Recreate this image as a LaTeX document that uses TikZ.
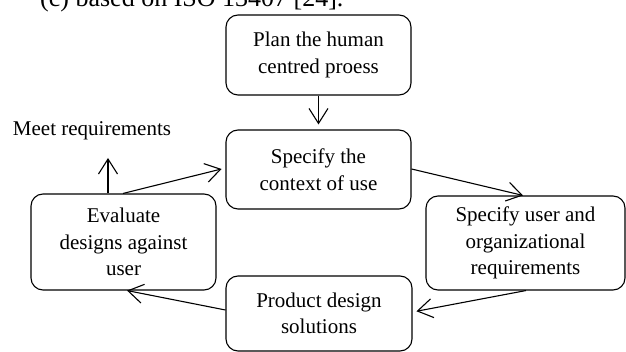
\documentclass[tikz,border=0pt]{standalone}
\usepackage{fontspec}
\setmainfont{Liberation Serif}
\usetikzlibrary{arrows.meta,calc}
\begin{document}
\begin{tikzpicture}[x=1pt,y=-1pt,
  box/.style={draw,line width=1.1pt,rounded corners=12pt,align=center,inner sep=0pt,
    font=\fontsize{21}{26.5}\selectfont},
  conn/.style={line width=1.1pt,-{Straight Barb[length=15pt,width=19pt,line width=1.1pt]}},
  lbl/.style={font=\fontsize{21}{26}\selectfont,inner sep=0pt}]
\useasboundingbox (0,0) rectangle (626,352);
\clip (0,0) rectangle (626,352);
\node[lbl,anchor=base west,font=\fontsize{26}{30}\selectfont] (cap) at (40,7) {(c) based on ISO 13407 [24].};
\node[box,minimum width=185pt,minimum height=80pt] (plan) at (318.5,55) {Plan the human\\centred proess};
\node[box,minimum width=185pt,minimum height=79pt] (ctx) at (318.5,169.5) {Specify the\\context of use};
\node[box,minimum width=185pt,minimum height=96pt] (eval) at (123.5,242) {Evaluate\\designs against\\user};
\node[box,minimum width=199pt,minimum height=94pt] (req) at (525.5,243) {Specify user and\\organizational\\requirements};
\node[box,minimum width=186pt,minimum height=75pt] (prod) at (319,313.5) {Product design\\solutions};
\node[lbl] (meet) at (92,131) {Meet requirements};
\coordinate (meettip) at (108,158);
\draw[conn,shorten >=5pt] (plan.south) -- (ctx.north);
\draw[conn,shorten >=4pt] ([xshift=-0.5pt]eval.north) -- ([yshift=1.5pt]ctx.west);
\draw[conn] ([yshift=0.5pt]ctx.east) -- ([xshift=-2.5pt]req.north);
\draw[conn,shorten >=4pt] ([xshift=0.5pt]req.south) -- ([yshift=1.5pt]prod.east);
\draw[conn] ([yshift=3.5pt]prod.west) -- ([xshift=3.5pt]eval.south);
\draw[conn] (eval.north -| meettip) -- (meettip);
\end{tikzpicture}
\end{document}
